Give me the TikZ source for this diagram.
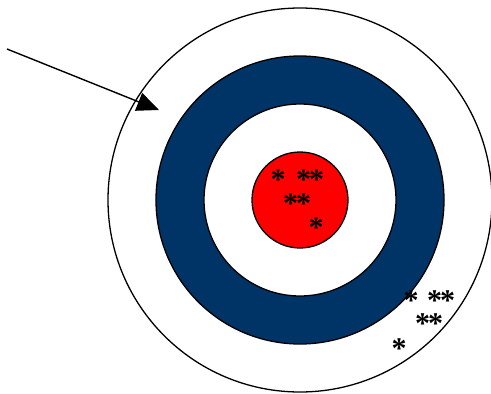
\documentclass[tikz,border=0pt]{standalone}
\usepackage{fontspec}
\setmainfont{Liberation Serif}
\usepackage{xcolor}
\usetikzlibrary{arrows.meta}

\definecolor{ringblue}{RGB}{0,51,102}
\definecolor{bullred}{RGB}{255,0,0}

\newcommand{\twohits}{*\kern-2pt*}

\begin{document}
\begin{tikzpicture}[
  x=1pt, y=-1pt,
  ring/.style={draw=black, line width=1.3pt},
  hit/.style={inner sep=0pt, font=\fontsize{30}{30}\selectfont\bfseries,
    text height=0.68em, text depth=-0.24em, anchor=base},
  arrow/.style={-{Triangle[length=22pt, width=19pt]}, line width=1.4pt, draw=black}
]
  \useasboundingbox (0,0) rectangle (491,394);

  % Target rings
  \coordinate (centre) at (300,200);
  \draw[ring, fill=white] (centre) circle[radius=192];
  \draw[ring, fill=ringblue] (centre) circle[radius=144];
  \draw[ring, fill=white] (centre) circle[radius=96];
  \draw[ring, fill=bullred] (centre) circle[radius=48];

  % Hits on the bull
  \node[hit] (b1) at (278,189) {*};
  \node[hit] (b2) at (310,189) {\twohits};
  \node[hit] (b3) at (297,213) {\twohits};
  \node[hit] (b4) at (316,237) {*};

  % Hits off target
  \node[hit] (m1) at (411,310) {*};
  \node[hit] (m2) at (441,310) {\twohits};
  \node[hit] (m3) at (429,333) {\twohits};
  \node[hit] (m4) at (399,358) {*};

  % Pointer
  \coordinate (from) at (7,49);
  \coordinate (tip) at (159,110);
  \draw[arrow] (from) -- (tip);

\end{tikzpicture}
\end{document}
